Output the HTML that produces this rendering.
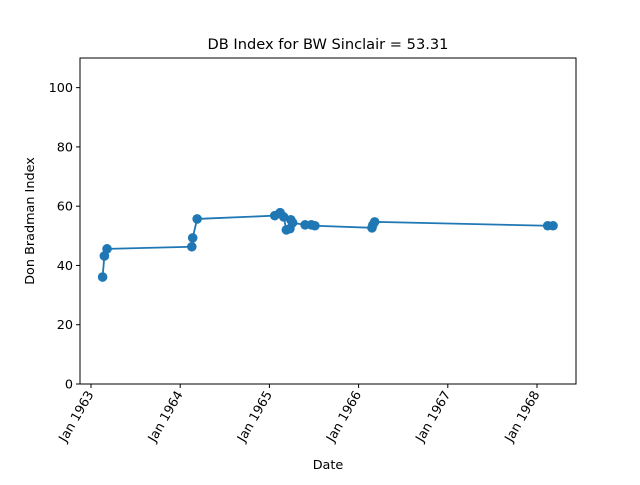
<!DOCTYPE html>
<html><head><meta charset="utf-8"><style>
body{margin:0;background:#fff;font-family:"Liberation Sans","DejaVu Sans",sans-serif;}
svg text{font-family:"DejaVu Sans","Liberation Sans",sans-serif;}
</style></head><body>
<svg id="c" width="640" height="480"></svg>
<script>
const dates=[1963.13,1963.15,1963.18,1964.13,1964.14,1964.19,1965.06,1965.12,1965.16,1965.19,1965.23,1965.24,1965.26,1965.40,1965.47,1965.51,1966.15,1966.16,1966.18,1968.12,1968.18];
const values=[36.1,43.2,45.6,46.3,49.3,55.7,56.8,57.8,56.4,52.0,52.4,55.4,54.4,53.7,53.7,53.4,52.7,53.7,54.7,53.4,53.4];
const yTicks=[0,20,40,60,80,100];
const xTickYears=[1963,1964,1965,1966,1967,1968];
const xTickLabels=["Jan 1963","Jan 1964","Jan 1965","Jan 1966","Jan 1967","Jan 1968"];
const NS="http://www.w3.org/2000/svg";
const svg=document.getElementById('c');
const L=80,R=576,T=58,B=384;
const xs=v=>91+(v-1963)*89.2;
const ys=v=>B-v*(B-T)/110;
function mk(t,a,p){const e=document.createElementNS(NS,t);for(const k in a)e.setAttribute(k,a[k]);(p||svg).appendChild(e);return e;}
const title=mk('text',{x:328,y:49,'text-anchor':'middle','font-size':14.6});
title.textContent='DB Index for BW Sinclair = 53.31';


yTicks.forEach(v=>{const y=ys(v);
mk('line',{x1:L-4,x2:L,y1:y,y2:y,stroke:'#000'});
const t=mk('text',{x:L-7,y:y+4.5,'text-anchor':'end','font-size':12.8});t.textContent=v;

});
xTickYears.forEach((yr,i)=>{const x=xs(yr);
mk('line',{x1:x,x2:x,y1:B,y2:B+4,stroke:'#000'});
const t=mk('text',{x:x+3,y:B+10,'text-anchor':'end','font-size':12.8,transform:`rotate(-60 ${x+3} ${B+10})`});t.textContent=xTickLabels[i];

});
const xl=mk('text',{x:328,y:469,'text-anchor':'middle','font-size':12.8});xl.textContent='Date';


const yl=mk('text',{x:34,y:221,'text-anchor':'middle','font-size':12.8,transform:'rotate(-90 34 221)'});yl.textContent='Don Bradman Index';


const line=mk('polyline',{points:dates.map((d,i)=>xs(d)+','+ys(values[i])).join(' '),fill:'none',stroke:'#1f77b4','stroke-width':1.8});


dates.forEach((d,i)=>{const c=mk('circle',{cx:xs(d),cy:ys(values[i]),r:4.8,fill:'#1f77b4'});

});
const fr=mk('rect',{x:L,y:T,width:R-L,height:B-T,fill:'none',stroke:'#000','stroke-width':1});


</script>
</body></html>
